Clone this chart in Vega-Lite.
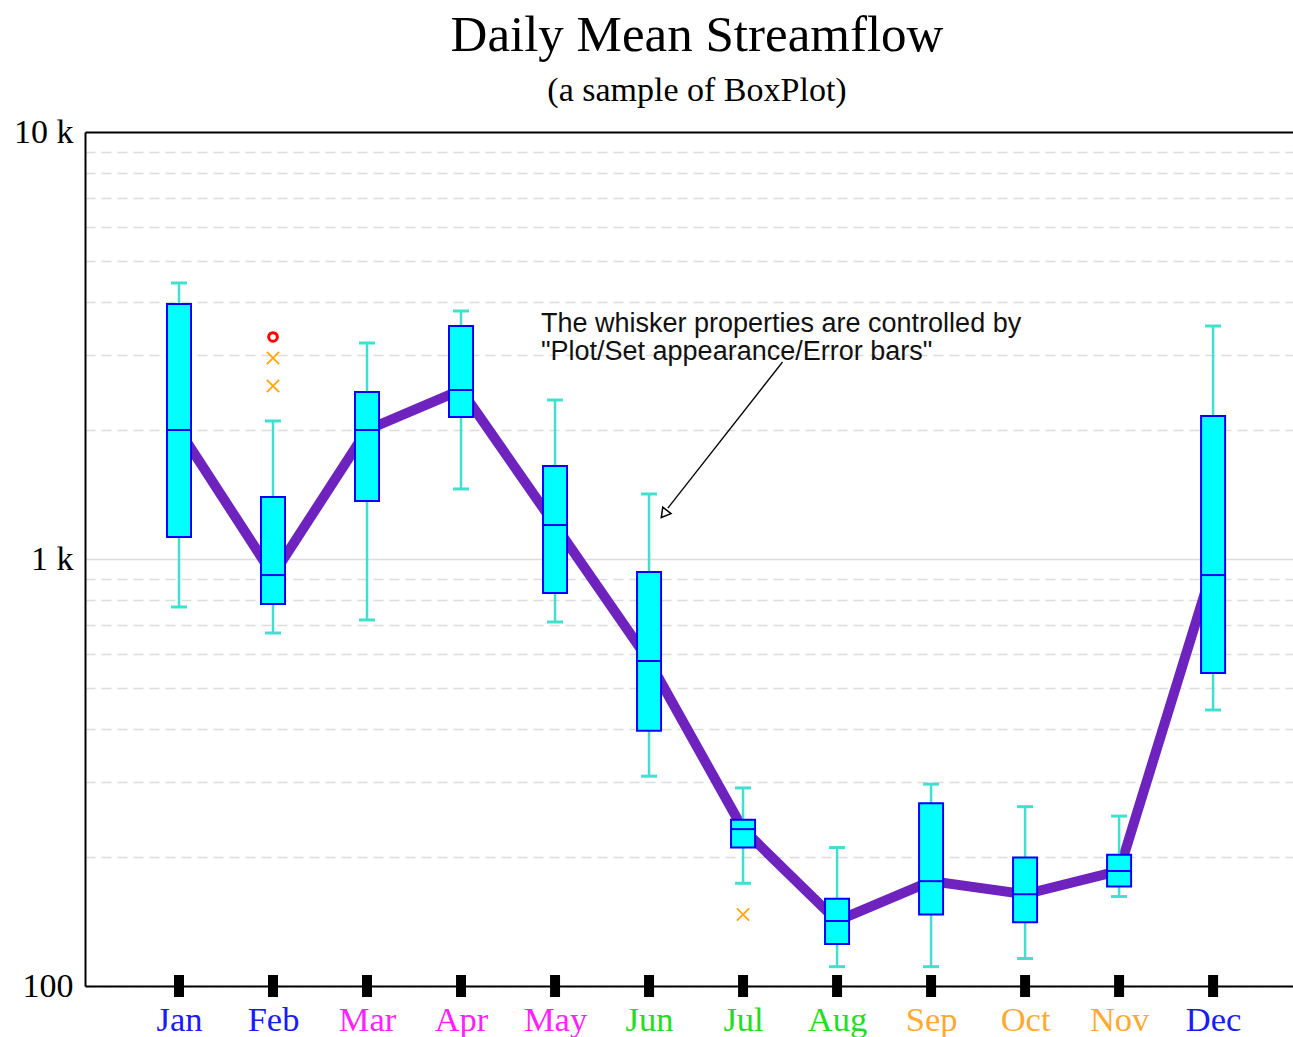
{
  "$schema": "https://vega.github.io/schema/vega-lite/v6.json",
  "width": 1208,
  "height": 854,
  "autosize": "none",
  "padding": {"left": 85, "top": 132, "right": 0, "bottom": 51},
  "background": "white",
  "title": {
    "text": "Daily Mean Streamflow",
    "subtitle": "(a sample of BoxPlot)",
    "font": "Liberation Serif",
    "fontSize": 51,
    "fontWeight": "normal",
    "color": "black",
    "subtitleFont": "Liberation Serif",
    "subtitleFontSize": 34,
    "subtitleColor": "black",
    "subtitlePadding": 12,
    "anchor": "middle",
    "offset": 6,
    "dx": 8
  },
  "config": {
    "view": {"stroke": null},
    "axis": {"labelFlush": false, "labelOverlap": false, "labelBound": false, "title": null}
  },
  "datasets": {
    "boxes": [
      {"month": 1, "lo": 772, "q1": 1126, "med": 2005, "q3": 3956, "hi": 4430, "mean": 2005},
      {"month": 2, "lo": 671, "q1": 785, "med": 917, "q3": 1397, "hi": 2105, "mean": 917},
      {"month": 3, "lo": 720, "q1": 1367, "med": 2005, "q3": 2460, "hi": 3205, "mean": 2005},
      {"month": 4, "lo": 1459, "q1": 2151, "med": 2488, "q3": 3513, "hi": 3809, "mean": 2488},
      {"month": 5, "lo": 712, "q1": 833, "med": 1201, "q3": 1651, "hi": 2357, "mean": 1201},
      {"month": 6, "lo": 310, "q1": 396, "med": 577, "q3": 932, "hi": 1420, "mean": 577},
      {"month": 7, "lo": 174, "q1": 211, "med": 233, "q3": 245, "hi": 291, "mean": 233},
      {"month": 8, "lo": 111, "q1": 125.5, "med": 142, "q3": 160, "hi": 211, "mean": 142},
      {"month": 9, "lo": 111, "q1": 147, "med": 176, "q3": 268, "hi": 297, "mean": 176},
      {"month": 10, "lo": 116, "q1": 141, "med": 164, "q3": 200, "hi": 263, "mean": 164},
      {"month": 11, "lo": 162, "q1": 171, "med": 186, "q3": 203, "hi": 250, "mean": 186},
      {"month": 12, "lo": 443, "q1": 541, "med": 917, "q3": 2162, "hi": 3513, "mean": 960}
    ],
    "circles": [
      {"month": 2, "value": 3311}
    ],
    "crosses": [
      {"month": 2, "value": 2956},
      {"month": 2, "value": 2541},
      {"month": 7, "value": 147}
    ],
    "notes": [
      {"x": 4.85, "y": 3401, "text": "The whisker properties are controlled by\n\"Plot/Set appearance/Error bars\""}
    ],
    "arrow": [
      {"x": 7.42, "y": 2893, "x2": 6.2, "y2": 1316}
    ],
    "arrowhead": [
      {"x": 6.16, "y": 1275}
    ]
  },
  "layer": [
    {
      "data": {"name": "boxes"},
      "mark": {"type": "line", "color": "#6e22be", "strokeWidth": 10},
      "encoding": {
        "x": {
          "field": "month", "type": "quantitative",
          "scale": {"domain": [0, 12.85], "nice": false, "zero": false, "padding": 0},
          "axis": {
            "values": [1, 2, 3, 4, 5, 6, 7, 8, 9, 10, 11, 12],
            "labelExpr": "['','Jan','Feb','Mar','Apr','May','Jun','Jul','Aug','Sep','Oct','Nov','Dec'][datum.value]",
            "grid": false,
            "ticks": false,
            "domainColor": "black",
            "domainWidth": 2,
            "labelFont": "Liberation Serif",
            "labelFontSize": 34.5,
            "labelPadding": 17,
            "labelColor": {
              "condition": [
                {"test": "datum.value <= 2 || datum.value == 12", "value": "#1a1aff"},
                {"test": "datum.value <= 5", "value": "#ff22ff"},
                {"test": "datum.value <= 8", "value": "#22dd22"}
              ],
              "value": "#ffaa33"
            }
          }
        },
        "y": {
          "field": "mean", "type": "quantitative",
          "scale": {"type": "log", "domain": [100, 10000], "nice": false, "padding": 0},
          "axis": {
            "values": [100, 200, 300, 400, 500, 600, 700, 800, 900, 1000, 2000, 3000, 4000, 5000, 6000, 7000, 8000, 9000, 10000],
            "labelExpr": "datum.value == 10000 ? '10 k' : datum.value == 1000 ? '1 k' : datum.value == 100 ? '100' : ''",
            "ticks": false,
            "domainColor": "black",
            "domainWidth": 2,
            "labelFont": "Liberation Serif",
            "labelFontSize": 34,
            "labelColor": "black",
            "labelPadding": 12,
            "labelBaseline": "middle",
            "grid": true,
            "gridColor": {"condition": {"test": "datum.value == 10000", "value": "black"}, "value": "#dcdcdc"},
            "gridWidth": {"condition": {"test": "datum.value == 10000", "value": 2}, "value": 1.5},
            "gridDash": {"condition": {"test": "datum.value == 1000 || datum.value == 10000", "value": []}, "value": [10, 6]}
          }
        }
      }
    },
    {
      "data": {"name": "boxes"},
      "mark": {"type": "rule", "color": "#40e0d0", "strokeWidth": 2.5},
      "encoding": {
        "x": {"field": "month", "type": "quantitative"},
        "y": {"field": "lo", "type": "quantitative"},
        "y2": {"field": "hi"}
      }
    },
    {
      "data": {"name": "boxes"},
      "mark": {"type": "tick", "orient": "horizontal", "color": "#40e0d0", "size": 16, "thickness": 3, "opacity": 1},
      "encoding": {
        "x": {"field": "month", "type": "quantitative"},
        "y": {"field": "lo", "type": "quantitative"}
      }
    },
    {
      "data": {"name": "boxes"},
      "mark": {"type": "tick", "orient": "horizontal", "color": "#40e0d0", "size": 16, "thickness": 3, "opacity": 1},
      "encoding": {
        "x": {"field": "month", "type": "quantitative"},
        "y": {"field": "hi", "type": "quantitative"}
      }
    },
    {
      "data": {"name": "boxes"},
      "mark": {"type": "bar", "size": 24, "fill": "#00ffff", "stroke": "#0000ff", "strokeWidth": 2},
      "encoding": {
        "x": {"field": "month", "type": "quantitative"},
        "y": {"field": "q1", "type": "quantitative"},
        "y2": {"field": "q3"}
      }
    },
    {
      "data": {"name": "boxes"},
      "mark": {"type": "tick", "orient": "horizontal", "color": "#0000ff", "size": 24, "thickness": 2, "opacity": 1},
      "encoding": {
        "x": {"field": "month", "type": "quantitative"},
        "y": {"field": "med", "type": "quantitative"}
      }
    },
    {
      "data": {"name": "boxes"},
      "mark": {"type": "tick", "orient": "vertical", "color": "black", "size": 22, "thickness": 10, "opacity": 1},
      "encoding": {
        "x": {"field": "month", "type": "quantitative"},
        "y": {"datum": 100, "type": "quantitative"}
      }
    },
    {
      "data": {"name": "circles"},
      "mark": {"type": "point", "shape": "circle", "filled": false, "stroke": "#ff0000", "strokeWidth": 3, "size": 75, "opacity": 1},
      "encoding": {
        "x": {"field": "month", "type": "quantitative"},
        "y": {"field": "value", "type": "quantitative"}
      }
    },
    {
      "data": {"name": "crosses"},
      "mark": {"type": "point", "shape": "M-1,-1L1,1M1,-1L-1,1", "filled": false, "stroke": "#ffa500", "strokeWidth": 1.8, "size": 150, "opacity": 1},
      "encoding": {
        "x": {"field": "month", "type": "quantitative"},
        "y": {"field": "value", "type": "quantitative"}
      }
    },
    {
      "data": {"name": "arrow"},
      "mark": {"type": "rule", "color": "black", "strokeWidth": 1.3},
      "encoding": {
        "x": {"field": "x", "type": "quantitative"},
        "y": {"field": "y", "type": "quantitative"},
        "x2": {"field": "x2"},
        "y2": {"field": "y2"}
      }
    },
    {
      "data": {"name": "arrowhead"},
      "mark": {"type": "point", "shape": "triangle-up", "filled": true, "fill": "white", "stroke": "black", "strokeWidth": 1.5, "size": 110, "angle": 218, "opacity": 1},
      "encoding": {
        "x": {"field": "x", "type": "quantitative"},
        "y": {"field": "y", "type": "quantitative"}
      }
    },
    {
      "data": {"name": "notes"},
      "mark": {"type": "text", "font": "Liberation Sans", "fontSize": 27, "lineHeight": 28, "lineBreak": "\n", "align": "left", "baseline": "alphabetic", "color": "#111111"},
      "encoding": {
        "x": {"field": "x", "type": "quantitative"},
        "y": {"field": "y", "type": "quantitative"},
        "text": {"field": "text"}
      }
    }
  ]
}
